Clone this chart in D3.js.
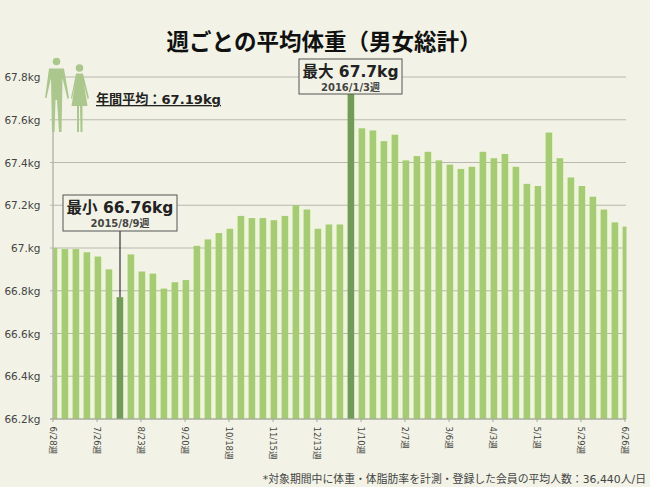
<!DOCTYPE html>
<html>
<head>
<meta charset="utf-8">
<script src="https://d3js.org/d3.v7.min.js"></script>
<style>
  html, body { margin: 0; padding: 0; background: #f2f3e6; }
  svg { display: block; }
  text { font-family: "DejaVu Sans", "Noto Sans CJK JP", sans-serif; }
</style>
</head>
<body>
<script>
const weeks = ['6/28', '', '', '', '7/26', '', '', '', '8/23', '', '', '', '9/20', '', '', '', '10/18', '', '', '', '11/15', '', '', '', '12/13', '', '', '', '1/10', '', '', '', '2/7', '', '', '', '3/6', '', '', '', '4/3', '', '', '', '5/1', '', '', '', '5/29', '', '', '', '6/26'];
const weights = [67.0, 66.995, 66.995, 66.98, 66.96, 66.90, 66.77, 66.97, 66.89, 66.88, 66.81, 66.84, 66.85,
  67.01, 67.04, 67.07, 67.09, 67.15, 67.14, 67.14, 67.13, 67.15, 67.20, 67.18, 67.09, 67.11, 67.11,
  67.72, 67.56, 67.55, 67.50, 67.53, 67.41, 67.43, 67.45, 67.41, 67.39, 67.37, 67.38, 67.45, 67.42, 67.44,
  67.38, 67.30, 67.29, 67.54, 67.42, 67.33, 67.29, 67.24, 67.18, 67.12, 67.10];
const yTicks = [66.2, 66.4, 66.6, 66.8, 67.0, 67.2, 67.4, 67.6, 67.8];
const yLabels = ['66.2kg', '66.4kg', '66.6kg', '66.8kg', '67.kg', '67.2kg', '67.4kg', '67.6kg', '67.8kg'];

const width = 650, height = 487;
const plotLeft = 53, plotRight = 625, plotTop = 77, plotBottom = 419;

const svg = d3.select('body').append('svg').attr('width', width).attr('height', height);

const x = d3.scaleLinear().domain([0, weeks.length - 1]).range([plotLeft, plotRight]);
const y = d3.scaleLinear().domain([66.2, 67.8]).range([plotBottom, plotTop]);

svg.append('text').attr('x', 324).attr('y', 50).attr('text-anchor', 'middle')
  .attr('font-size', 22.5).attr('font-weight', 'bold').attr('fill', '#111')
  .text('週ごとの平均体重（男女総計）');

// bars, clipped to the plot edges
svg.append('clipPath').attr('id', 'plot').append('rect')
  .attr('x', plotLeft).attr('y', 0).attr('width', plotRight - plotLeft + 1.5).attr('height', height);

// pale halo around the bars, sits under the grid
svg.append('g').attr('clip-path', 'url(#plot)')
  .selectAll('rect').data(weights).join('rect')
  .attr('x', (d, i) => x(i) - 4.4)
  .attr('width', 11)
  .attr('y', d => y(d))
  .attr('height', d => plotBottom - y(d))
  .attr('fill', '#eff6dc');

// grid
svg.append('g').selectAll('line').data(yTicks).join('line')
  .attr('x1', plotLeft - 3).attr('x2', plotRight + 1)
  .attr('y1', d => y(d)).attr('y2', d => y(d))
  .attr('stroke', '#b8b8ae').attr('stroke-width', 1.2);

svg.append('g').attr('clip-path', 'url(#plot)')
  .selectAll('rect').data(weights).join('rect')
  .attr('x', (d, i) => x(i) - 2.4)
  .attr('width', 6.6)
  .attr('y', d => y(d))
  .attr('height', d => plotBottom - y(d))
  .attr('fill', d => (d === d3.min(weights) || d === d3.max(weights)) ? '#729a58' : '#a5cb74');

// axes
svg.append('line').attr('x1', plotLeft).attr('x2', plotLeft).attr('y1', 130).attr('y2', plotBottom)
  .attr('stroke', '#b8b8ae').attr('stroke-width', 1.5);
svg.append('line').attr('x1', plotLeft - 3).attr('x2', plotRight + 1).attr('y1', plotBottom).attr('y2', plotBottom)
  .attr('stroke', '#a3a89a').attr('stroke-width', 1.2);

svg.append('g').selectAll('text').data(yTicks).join('text')
  .attr('x', 40.5).attr('y', d => y(d) + 4)
  .attr('text-anchor', 'end').attr('font-size', 10.5).attr('fill', '#444')
  .text((d, i) => yLabels[i]);

const tickWeeks = weeks.map((w, i) => ({ w, i })).filter(d => d.w);
const xAxis = svg.append('g');
xAxis.selectAll('line').data(tickWeeks).join('line')
  .attr('x1', d => x(d.i)).attr('x2', d => x(d.i))
  .attr('y1', plotBottom).attr('y2', plotBottom + 3)
  .attr('stroke', '#a3a89a');
xAxis.selectAll('text').data(tickWeeks).join('text')
  .attr('transform', d => `translate(${x(d.i) - 3.5},${plotBottom + 7.5}) rotate(90)`)
  .attr('font-size', 8.5).attr('fill', '#444')
  .text(d => d.w + '週');

// people icon
const people = svg.append('g').attr('fill', '#abc78d');
people.append('circle').attr('cx', 56.5).attr('cy', 61.5).attr('r', 3.8);
people.append('path').attr('d', 'M49,68.5 L64,68.5 L69,98 L67.5,99 L62.5,78 L61.5,132 L59,132 L57,100 L55.5,100 L54.5,132 L52,132 L51,78 L46.5,98 L45,98 Z');
people.append('circle').attr('cx', 79.5).attr('cy', 68).attr('r', 3.8);
people.append('path').attr('d', 'M76,73.5 L83,73.5 L89,98 L87.5,99 L84,84 L87.5,106 L82.5,106 L82.5,132 L80.5,132 L80,106 L79,106 L79,132 L77,132 L77,106 L71.5,106 L75,84 L72,99 L71,98 Z');

svg.append('text').attr('x', 96).attr('y', 104).attr('font-size', 13.1).attr('font-weight', 'bold')
  .attr('fill', '#222').attr('text-decoration', 'underline').text('年間平均：67.19kg');

// min / max callouts
const minIndex = weights.indexOf(d3.min(weights));

svg.append('line').attr('x1', x(minIndex) + 1).attr('x2', x(minIndex) + 1)
  .attr('y1', 231).attr('y2', y(weights[minIndex])).attr('stroke', '#111');

const callouts = [
  { bx: 63, by: 195, w: 114, h: 36, main: '最小 66.76kg', sub: '2015/8/9週' },
  { bx: 299, by: 59, w: 103, h: 35, main: '最大 67.7kg', sub: '2016/1/3週' }
];
const box = svg.append('g').selectAll('g').data(callouts).join('g');
box.append('rect')
  .attr('x', d => d.bx).attr('y', d => d.by).attr('width', d => d.w).attr('height', d => d.h)
  .attr('fill', '#f2f3e6').attr('stroke', '#555').attr('stroke-width', 1);
box.append('text').attr('x', d => d.bx + d.w / 2).attr('y', d => d.by + 18)
  .attr('text-anchor', 'middle').attr('font-size', 15.5).attr('font-weight', 'bold').attr('fill', '#222')
  .text(d => d.main);
box.append('text').attr('x', d => d.bx + d.w / 2).attr('y', d => d.by + 32)
  .attr('text-anchor', 'middle').attr('font-size', 10).attr('font-weight', 'bold').attr('fill', '#444')
  .text(d => d.sub);

svg.append('text').attr('x', 646).attr('y', 483).attr('text-anchor', 'end')
  .attr('font-size', 10.85).attr('fill', '#444')
  .text('*対象期間中に体重・体脂肪率を計測・登録した会員の平均人数：36,440人/日');
</script>
</body>
</html>
